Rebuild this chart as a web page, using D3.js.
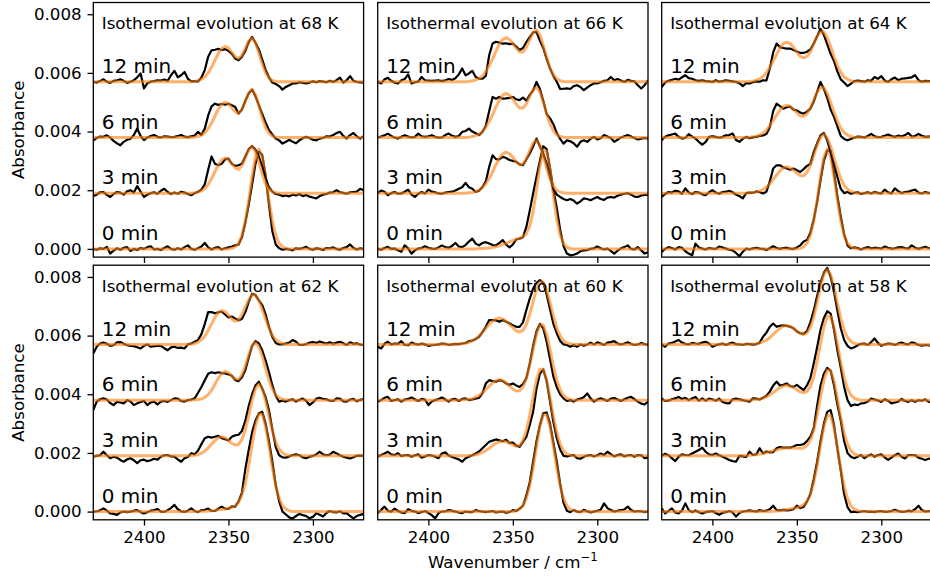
<!DOCTYPE html>
<html>
<head>
<meta charset="utf-8">
<title>Isothermal evolution</title>
<script src="https://d3js.org/d3.v7.min.js"></script>
<style>
  body { margin: 0; background: #fff; }
  svg { display: block; font-family: "DejaVu Sans", sans-serif; }
</style>
</head>
<body>
<script>
// wavenumber grid in cm-1, shared by every spectrum
var wavenumber = [2430,2428,2426,2424,2422,2420,2418,2416,2414,2412, 2410,2408,2406,2404,2402,2400,2398,2396,2394,2392,
  2390,2388,2386,2384,2382,2380,2378,2376,2374,2372, 2370,2368,2366,2364,2362,2360,2358,2356,2354,2352,
  2350,2348,2346,2344,2342,2340,2338,2336,2334,2332, 2330,2328,2326,2324,2322,2320,2318,2316,2314,2312,
  2310,2308,2306,2304,2302,2300,2298,2296,2294,2292, 2290,2288,2286,2284,2282,2280,2278,2276,2274,2272, 2270]

var temperatures = [68, 66, 64, 62, 60, 58]
var minutes = [0, 3, 6, 12]
var offsets = [0, 0.0019, 0.0038, 0.0057]
var xTicks = [2400, 2350, 2300]
var yTicks = [0, 0.002, 0.004, 0.006, 0.008]
var unit = 1e-4   // values below are absorbance / 1e-4, above each trace's own baseline

// measured spectra (m) and fits (f), 68 K
var m68_0 = [0,-0.3,0.2,0,0.7,-1.6,-0.6,0.2,-0.3,0.4, 0.6,-0.7,0,-0.4,0.3,0,0.6,0.9,-0.2,0, -0.4,0.3,0.9,0,-0.3,0.2,-0.2,0.6,1.2,0, -0.3,0.2,0.8,2,0.5,-0.2,0.4,0.6,-0.2,0.2, 0.5,0.8,1.2,1.5,4,9,15,22,29,33.2, 32,25,15,6,1.5,0.2,-0.3,0,-0.2,-0.5, 0.2,0,0.3,0.7,0,-0.3,0.2,0,-0.4,0.3, 0.2,0.5,0,-0.3,0.3,0.6,1.5,0.3,-0.2,0.2, 0]
var f68_0 = [0,0,0,0,0,0,0,0,0,0, 0,0,0,0,0,0,0,0,0,0, 0,0,0,0,0,0,0,0,0,0, 0,0,0,0,0,0,0,0,0,0, 0,0.2,0.7,1.9,4.6,9.5,16.6,24.7,31.4,34, 31.4,24.7,16.6,9.5,4.6,1.9,0.7,0.2,0,0, 0,0,0,0,0,0,0,0,0,0, 0,0,0,0,0,0,0,0,0,0, 0]
var m68_3 = [-1,-0.5,0.3,0.4,-0.6,-1.3,-0.3,0.4,0.2,-0.5, 0.6,1,0.2,2.4,0.5,-1.3,-0.5,0,0.3,-0.2, 0.8,1.5,0.4,-0.3,0.2,-0.2,0.5,0.2,-0.3,-0.7, 0,0.5,1.2,3,8,12.5,10,9.5,10,11.5, 11.8,10,9.3,9.5,10,12.5,15,16.1,14.8,12.5, 9,5,2,0.5,-0.3,-0.5,-1,-0.8,-1.1,-0.5, -0.8,-0.3,-1,-0.6,-1.2,-1.5,-1.8,-1,-0.5,-0.3, 0.2,0.3,1,0.3,0.1,-0.2,0.3,0.4,0.5,1.5, 1]
var f68_3 = [0,0,0,0,0,0,0,0,0,0, 0,0,0,0,0,0,0,0,0,0, 0,0,0,0,0,0,0,0,0,0, 0.1,0.4,0.8,1.6,3,4.9,7.3,9.6,11.4,12, 11.5,10.1,8.6,8.1,9.4,12.1,14.8,15.9,14.1,10.5, 6.4,3.2,1.3,0.5,0.1,0,0,0,0,0, 0,0,0,0,0,0,0,0,0,0, 0,0,0,0,0,0,0,0,0,0, 0]
var m68_6 = [-1,-0.2,0.3,0.2,0.7,0,-1.2,-2,-2.7,-1.5, -0.8,-0.5,0.8,3,0.5,-0.9,0,0.5,0.8,0.2, 0,0.4,0.3,0.1,0.2,0.5,0.8,0.3,0.1,0.4, 0.6,1.9,0.8,3,7.5,10.6,11.5,11.1,11.4,11.2, 11.5,11,10.4,8.1,9.5,12.5,15,16.3,14,11, 8,5,2.5,1,-0.4,-1,-2.1,-1.5,-0.8,-1.5, -2,-1,-0.3,0.2,-0.2,-0.8,-1,-0.4,-0.2,0.4, 0.3,0.8,1.5,1.9,0.5,-0.4,0.8,1.5,0.3,-0.4, 0.4]
var f68_6 = [0,0,0,0,0,0,0,0,0,0, 0,0,0,0,0,0,0,0,0,0, 0,0,0,0,0,0,0,0,0,0, 0.1,0.4,0.8,1.6,3,4.9,7.3,9.6,11.4,12, 11.5,10.1,8.7,8.2,9.6,12.4,15.3,16.4,14.6,10.8, 6.6,3.3,1.4,0.5,0.1,0,0,0,0,0, 0,0,0,0,0,0,0,0,0,0, 0,0,0,0,0,0,0,0,0,0, 0]
var m68_12 = [0,-0.3,0.2,0.8,0,-0.4,0.3,0.5,0.8,0.3, -0.4,0,0.5,1.5,2.8,-2.3,-0.5,0,0.2,0.5, 0.4,0.7,0.3,2.2,3.7,1.5,2.2,3.3,1,0.1, 0.2,0.1,1.4,4,8.5,10.7,10.9,11.2,10.8,11.1, 10.5,9.5,7.9,7.3,8.5,10.5,13.5,15.3,13.3,11, 7.5,4,1.5,-0.3,-0.8,-1.5,-2.7,-1.8,-1.2,-0.6, -0.6,-0.2,-0.4,-0.6,-0.3,0.1,-0.2,0.2,0,-0.2, 0.3,-0.1,0.5,1.4,-0.3,0.5,1.9,0.3,-0.1,-0.2, -0.4]
var f68_12 = [0,0,0,0,0,0,0,0,0,0, 0,0,0,0,0,0,0,0,0,0, 0,0,0,0,0,0,0,0,0,0, 0.1,0.4,0.8,1.6,3,4.9,7.3,9.6,11.4,12, 11.5,10,8.5,7.9,9,11.4,13.9,14.9,13.2,9.8, 6,3,1.2,0.4,0.1,0,0,0,0,0, 0,0,0,0,0,0,0,0,0,0, 0,0,0,0,0,0,0,0,0,0, 0]

// 66 K
var m66_0 = [0,-0.3,0.3,0.7,0,0.1,-0.5,-1,1.2,0.2, -1.6,-0.5,0.1,0.3,0.9,0.4,0.1,0,0.5,1.2, 0.6,0.4,1,2,0.8,0.6,1.3,2.5,3.5,1.8, 1.2,2,2.3,1.8,1.3,1.2,2,3,1.5,0.5, 1.5,3.2,3.5,4,7.5,13,18.9,24.5,30,35, 34,27.5,20,14,6.5,1,-1.6,-2.2,-2,-1.6, -0.8,-0.5,-0.4,0,0.2,0.8,0.2,-0.2,0.1,-0.7, -1.6,-0.6,0.2,0.6,1.2,0,-0.2,0.6,-0.5,-1.6, -1.2]
var f66_0 = [0,0,0,0,0,0,0,0,0,0, 0,0,0,0,0,0,0,0,0,0, 0,0,0,0,0,0,0,0,0,0, 0.1,0.1,0.2,0.3,0.5,0.7,1.1,1.5,1.9,2.4, 2.9,3.3,3.6,4.1,5.2,7.8,12.7,20.2,28.3,33.7, 33.3,27.1,18.3,10.1,4.7,1.8,0.6,0.1,0,0, 0,0,0,0,0,0,0,0,0,0, 0,0,0,0,0,0,0,0,0,0, 0]
var m66_3 = [0,0.9,0.5,-0.7,0,0.4,-0.2,-0.1,0.5,1.2, -0.5,-1.3,-0.2,0.4,-0.1,1.2,0.5,0.3,-0.1,-0.2, 0.2,0.4,0.5,0.9,1.5,2,3.5,2,1.5,0.4, 0.8,2.1,4,9,12.9,11.6,11.5,12.4,12,11.3, 11,10.7,9.8,9.5,11.5,13.5,16,18.6,16,13.5, 10,5.5,1.5,-0.5,-1.3,-2,-2.4,-2,-2.5,-3.6, -2.8,-1.8,-2,-2.4,-1.8,-1.3,-2,-2.3,-1.5,-1.3, -1.5,-0.9,-0.5,-0.2,0,-0.5,-1.2,-1.3,-0.8,-0.6, -0.6]
var f66_3 = [0,0,0,0,0,0,0,0,0,0, 0,0,0,0,0,0,0,0,0,0, 0,0,0,0,0,0,0,0.1,0.2,0.5, 1,1.9,3.2,5,7.3,9.7,11.9,13.4,14,13.4, 12.3,10.7,9.7,9.9,11.7,14.6,17.2,18,16.4,12.8, 8.5,4.9,2.4,1,0.4,0.1,0,0,0,0, 0,0,0,0,0,0,0,0,0,0, 0,0,0,0,0,0,0,0,0,0, 0]
var m66_6 = [0,0.3,0.7,1.3,0.5,0,-0.4,0.2,0.7,0.3, 0,0.2,1.3,0.4,0.2,0.4,0.7,0.2,-0.1,0, 0.8,1.3,0.6,0.2,0.5,1.9,2.2,3,2,1.4, 0.8,1.9,4,9,13.8,13.2,13.8,13.2,13.3,13.5, 13.8,13,12.7,13.6,12.5,14.5,16,18.9,16.5,12.5, 8,6.5,4.5,1.5,-0.5,-2.1,-1,-1.3,-2,-3.2, -1.5,-1,-1.5,-0.5,0.2,-0.7,-0.3,0.8,0.3,-0.2, -1.5,-0.8,0,0.4,0.8,0.3,-0.2,-0.7,-0.4,-0.2, -0.4]
var f66_6 = [0,0,0,0,0,0,0,0,0,0, 0,0,0,0,0,0,0,0,0,0, 0,0,0,0,0,0,0,0.1,0.3,0.6, 1.1,2,3.5,5.4,7.8,10.4,12.7,14.4,15,14.4, 13,11.3,10,10,11.5,14,16.3,17.1,15.5,12.1, 8,4.6,2.2,0.9,0.3,0.1,0,0,0,0, 0,0,0,0,0,0,0,0,0,0, 0,0,0,0,0,0,0,0,0,0, 0]
var m66_12 = [0,-0.6,0.8,1.3,0.3,-0.3,-0.6,0.5,0.9,2.5, -0.6,-0.2,0,1.6,0.5,0.4,0.3,0.4,0.5,0.2, 0.5,0.9,0.6,1.2,2.5,4.5,2.2,2.8,3.7,1.6, 1,1,2,9,13,13.6,13.3,13,13.1,12.8, 13,12,10.8,11.5,13.5,15.2,16.8,17,14,11.5, 7.8,4.5,2,0,-2.5,-2.4,-2.3,-2.5,-1.5,-1.2, -1.8,-2.9,-2,-1.2,-0.6,-0.6,-0.2,0.3,0.5,1.6, 0.5,0.9,0.4,-0.1,0.6,0.3,0.1,-1.2,-2.3,-1.2, 0.5]
var f66_12 = [0,0,0,0,0,0,0,0,0,0, 0,0,0,0,0,0,0,0,0,0, 0,0,0,0,0,0,0,0.1,0.3,0.6, 1.1,2,3.5,5.4,7.8,10.4,12.7,14.4,15,14.4, 13.1,11.4,10.1,10.1,11.8,14.3,16.8,17.6,16,12.4, 8.3,4.7,2.3,1,0.3,0.1,0,0,0,0, 0,0,0,0,0,0,0,0,0,0, 0,0,0,0,0,0,0,0,0,0, 0]

// 64 K
var m64_0 = [-1,0,0.6,0.3,-0.2,0.6,0.4,-0.8,-1.6,-2.2, 1.8,0.5,0.1,-0.2,0.3,0.1,0,0.8,0.5,0.1, -0.3,-0.5,-1.4,-2.5,-1,0.1,-0.2,0.2,0.4,0.1, 0,-0.4,0.2,0.9,0.3,0,0.3,0.4,0.1,0, 0.5,1.2,2.5,3,5.5,10,16,23.4,30,33.5, 33.5,26,18,11,5,1.2,0.2,0.5,0.3,-0.2, 0.3,0.6,0.2,0.4,0.3,0.1,0.8,0.4,0.1,0.2, 0.5,0.6,0.3,0.1,1.2,0.4,0,0.4,0.7,0.3, 0.1]
var f64_0 = [0,0,0,0,0,0,0,0,0,0, 0,0,0,0,0,0,0,0,0,0, 0,0,0,0,0,0,0,0,0,0, 0,0,0,0,0,0,0,0,0,0, 0,0.2,0.7,1.9,4.6,9.5,16.6,24.7,31.4,34, 31.4,24.7,16.6,9.5,4.6,1.9,0.7,0.2,0,0, 0,0,0,0,0,0,0,0,0,0, 0,0,0,0,0,0,0,0,0,0, 0]
var m64_3 = [-1.3,-0.3,0.4,0.2,0.8,0.6,-0.2,1.6,0.2,-0.3, 0.4,0.2,-0.4,-0.7,0.3,1,0.2,-0.2,0.4,0.5, 0.8,0.3,-0.5,-1,-1.8,0,0.2,0.1,0.6,0.3, -0.1,0.5,4,8.4,9.5,9.5,8.8,8.4,8,8.4, 7.8,7.2,8.2,9.3,10,14,17,19.7,20.5,18, 14,10,5.5,1.5,0,0.4,-0.2,0.1,0.3,-0.3, 0,0.3,-0.1,0.4,0.1,-0.1,1.2,0.3,-0.1,1.6, 0.7,0,0.4,0.5,0.9,1.2,0.2,-0.1,0.4,0, 0.2]
var f64_3 = [0,0,0,0,0,0,0,0,0,0, 0,0,0,0,0,0,0,0,0,0, 0,0,0,0,0,0,0.1,0.2,0.3,0.7, 1.2,2.1,3.2,4.7,6.2,7.6,8.6,9,8.6,7.8, 6.8,6,5.9,7.1,9.4,12.8,16.3,19.1,20.1,18.9, 16,12.1,8.2,5,2.7,1.3,0.6,0.2,0,0, 0,0,0,0,0,0,0,0,0,0, 0,0,0,0,0,0,0,0,0,0, 0]
var m64_6 = [-1,0.2,0.7,1,1.3,0.2,-0.4,-0.2,1.1,0.3, -0.4,-1.5,-2.5,-1.5,0.2,0.4,0.2,-0.1,0.2,0.7, 0.8,1.3,-0.9,-1.5,-0.5,0.2,-0.3,0,0.2,0.5, 0.7,1.2,3.5,9,11.5,10.7,9.8,10.3,10.5,9.5, 9.2,8.5,8.1,8.8,9.8,12.2,15.5,18.9,16.5,13.5, 9.5,7,3.8,0.5,-0.5,-1,-0.5,-0.1,0.3,0.2, 0,0.5,1.2,0.4,0.1,0.2,0.6,1,0.5,0.2, 0.6,0.3,0.8,1.5,0.3,0.5,1.2,0.6,0.2,0.3, 0.2]
var f64_6 = [0,0,0,0,0,0,0,0,0,0, 0,0,0,0,0,0,0,0,0,0, 0,0,0,0,0,0,0.1,0.2,0.4,0.8, 1.5,2.5,4,5.7,7.6,9.3,10.6,11,10.6,9.6, 8.4,7.3,7.2,8,10.1,12.8,15.4,17,16.9,15, 12,8.6,5.5,3.2,1.6,0.8,0.3,0,0,0, 0,0,0,0,0,0,0,0,0,0, 0,0,0,0,0,0,0,0,0,0, 0]
var m64_12 = [-1.8,-0.3,0.3,0.6,1,0.7,1.5,2.2,1.2,1, 0.5,0.3,0.5,0.2,0.1,-0.1,0.5,0,0.2,0.5, 0.3,0.1,-0.1,-0.5,-1.5,-0.5,-0.6,-0.2,0.1,0, 0.5,0.4,4.5,10,13,11.8,11.5,11.3,11.3,10.8, 10.3,9.8,9.8,10.2,11,13,15.5,18,16,12.7, 9.5,7,3.5,0.8,-0.3,-1.5,-0.7,0.2,0.4,0.2, 0,0.5,0.3,1.6,1,1.9,0.4,-0.1,0.8,1.4, 0.5,1,1.1,1.3,1.5,2.2,0.5,0,0.3,0.2, 0.1]
var f64_12 = [0,0,0,0,0,0,0,0,0,0, 0,0,0,0,0,0,0,0,0,0, 0,0,0,0,0,0,0.1,0.2,0.5,1, 1.8,3.1,4.9,7,9.3,11.5,13,13.5,13,11.8, 10.1,8.6,8.1,8.6,10.2,13,15.5,17,16.9,15, 12,8.6,5.5,3.2,1.6,0.8,0.3,0,0,0, 0,0,0,0,0,0,0,0,0,0, 0,0,0,0,0,0,0,0,0,0, 0]

// 62 K
var m62_0 = [0,0.1,0.4,1.1,0.3,-0.6,-0.8,-1.1,-0.3,0, -0.2,0,0.3,0.5,-0.2,-0.6,-0.2,0.3,0.5,0.9, 0,-0.1,0.5,1.2,2.3,0.8,0.1,-0.1,0.3,1.1, 0.2,-0.2,0.5,0.6,1,0.2,0.2,1,1.7,1, 0.9,1.8,1.7,3.5,6.5,14.5,21,27,31,33.5, 34,30,24,17,9,3.5,0,-1,-2,-2.3, -1.5,-0.8,-1.2,-1.5,-2.3,-1.8,-0.6,-1.1,-1.7,-0.5, 0.2,-0.2,-0.3,0.1,-0.6,-0.5,-1.5,-2.3,-1.5,-1.1, -0.8]
var f62_0 = [0,0,0,0,0,0,0,0,0,0, 0,0,0,0,0,0,0,0,0,0, 0,0,0,0,0,0,0,0,0,0, 0,0,0.1,0.1,0.2,0.3,0.4,0.6,0.7,0.9, 1.1,1.4,2,3.2,5.6,9.7,15.6,22.8,29.3,33.3, 33.2,29,22.3,14.9,8.8,4.5,2,0.8,0.3,0, 0,0,0,0,0,0,0,0,0,0, 0,0,0,0,0,0,0,0,0,0, 0]
var m62_3 = [-0.3,0,0.2,1.4,0.2,-0.8,-0.3,-0.6,-1.4,-2, -1.2,-0.8,-1.5,-2.5,-1.5,-1.3,-1.8,-1.5,-1,-1.3, -0.3,0.2,0.3,-0.2,-0.3,-1.2,-2,-0.8,-0.4,0.9, 0.5,1.8,4,6,6.5,6.2,6.5,6.8,6,5.7, 5.2,6.5,7,7.2,8.5,12,17,21,24,25.3, 23,20,15.5,9,3,0.2,-0.5,-0.6,-0.2,0.3, 0.5,0.2,-0.5,-0.8,-0.3,0,0.5,1.4,0.5,0.2, 0.4,1.4,0.8,0.2,-0.3,-0.6,-0.9,-0.5,0,0.1, 0]
var f62_3 = [0,0,0,0,0,0,0,0,0,0, 0,0,0,0,0,0,0,0,0,0, 0,0,0,0,0,0,0,0,0,0.1, 0.2,0.4,0.9,1.6,2.7,4,5.2,6.2,6.5,6.2, 5.3,4.3,3.7,3.9,5.6,8.9,13.7,18.9,22.9,24.5, 22.9,18.8,13.5,8.5,4.7,2.3,1,0.4,0.1,0, 0,0,0,0,0,0,0,0,0,0, 0,0,0,0,0,0,0,0,0,0, 0]
var m62_6 = [-3.4,-0.5,0.3,0.6,0.2,-1,-1.7,-0.6,-0.8,-1.1, 0,-0.5,-1.7,-1.1,-0.6,-0.3,-1.7,-0.8,-0.5,-1.5, -0.5,-0.3,-0.6,0,0.6,0.5,-0.3,-0.5,0,0.2, 0.6,2.5,4.5,6.8,9,9.5,9.2,9.5,9.2,9.1, 8.8,8.3,6.8,6.5,7.8,10.3,14.5,18.5,20.1,19.3, 17,13.5,9.5,5,1.5,-0.5,-0.1,-0.5,0,0.3, -0.5,0.1,0.5,-0.2,-1.7,-0.8,0.5,0.8,0.4,0.3, -0.2,-0.3,0.6,0.5,-0.4,-0.5,0.2,0.4,-0.4,0.1, 0.4]
var f62_6 = [0,0,0,0,0,0,0,0,0,0, 0,0,0,0,0,0,0,0,0,0, 0,0,0,0,0,0,0,0,0,0, 0.1,0.2,0.4,0.9,1.9,3.4,5.4,7.5,9.1,9.8, 9.4,8.2,7.2,7.1,8.7,11.7,15.4,18.5,19.6,18.3, 15,10.8,6.8,3.7,1.8,0.8,0.3,0.1,0,0, 0,0,0,0,0,0,0,0,0,0, 0,0,0,0,0,0,0,0,0,0, 0]
var m62_12 = [-3.1,-0.8,0.3,0.6,0.2,-0.5,-0.3,0.7,0.8,0.2, -0.3,-0.5,-0.6,-1,-1.4,-0.5,0,-0.8,-0.6,-0.5, -0.5,-1.3,-2,-1,-0.8,-1.2,-1.1,-1.4,0,0.3, 0.9,1.5,3.5,7,11,11,10.6,10.9,11.2,10.2, 9.2,9.5,8.8,8.2,8.7,11,14.5,17.3,16.8,15, 13.4,10.2,6,2.5,0.5,0,0,0.3,0.6,1.5, 0.9,-0.2,-0.2,0.1,0.6,0.8,0.5,1,0.6,0.3, 0.7,0.2,0.6,0.9,0.4,-0.2,0.7,0.2,0.4,-0.1, -0.2]
var f62_12 = [0,0,0,0,0,0,0,0,0,0, 0,0,0,0,0,0,0,0,0,0, 0,0,0,0,0,0,0,0,0,0.1, 0.3,0.8,1.6,2.9,4.7,7,9.2,10.9,11.5,11.2, 10,8.6,7.9,8.4,10.2,12.8,15.3,16.9,16.8,15, 12,8.6,5.5,3.2,1.6,0.8,0.3,0,0,0, 0,0,0,0,0,0,0,0,0,0, 0,0,0,0,0,0,0,0,0,0, 0]

// 60 K
var m60_0 = [-0.5,0.5,1.7,0.3,0,1,0.2,-0.3,-0.5,0.8, 0.3,0,-0.5,-0.2,0.2,-0.5,-1.2,-2.3,-0.5,0, 0.1,0.5,0.3,0,-0.3,-0.5,0,-0.2,-0.2,0.5, 0.2,0,-0.2,0,0.2,-0.3,-0.1,0,-0.4,-0.2, 0.5,0.2,1,2,5.5,10,17,24,29.5,33.5, 33.8,30,23.5,17,9.5,3,0.3,-0.2,0.5,0, -0.2,0.6,0.1,-0.3,0,0.3,0.6,2.8,1.2,0.5, 0,0.3,0.5,0.7,1.7,0.5,0,0.2,0.1,-0.2, 0]
var f60_0 = [0,0,0,0,0,0,0,0,0,0, 0,0,0,0,0,0,0,0,0,0, 0,0,0,0,0,0,0,0,0,0, 0,0,0,0,0,0,0,0,0,0, 0,0.3,0.8,2,4.5,8.8,14.9,22.2,28.9,33, 33,28.9,22.2,14.9,8.8,4.5,2,0.8,0.3,0, 0,0,0,0,0,0,0,0,0,0, 0,0,0,0,0,0,0,0,0,0, 0]
var m60_3 = [-0.3,0.3,0.8,1.4,0.5,0.3,0.9,-0.1,0.2,0.3, -0.3,0.2,0.5,-0.6,-0.2,0.3,0.1,-0.3,-0.8,0.8, 1.2,0.1,-0.4,-0.8,-1.2,-2,-0.8,-0.3,0.2,0.8, 1.5,2.6,3.7,4.8,5.2,5.6,5.3,5,5.5,4.4, 4.5,3.5,3.1,4.8,6.5,10.5,15,23,28,29.5, 25.5,18.5,11.5,6,2.2,0,-0.2,0.1,0.3,-0.8, -1,-0.3,0.1,0.3,-0.2,0.2,0.8,0.3,1.4,0.6, -0.2,0.3,0.5,-0.2,0.2,0.3,-0.3,0.3,0.2,-0.8, -0.6]
var f60_3 = [0,0,0,0,0,0,0,0,0,0, 0,0,0,0,0,0,0,0,0,0, 0,0,0,0,0,0,0,0.1,0.2,0.4, 0.7,1.2,1.8,2.6,3.5,4.3,4.8,5,4.8,4.3, 3.7,3.3,3.6,5.2,8.6,13.8,20.1,26,29.5,29.5, 25.9,19.9,13.4,7.9,4.1,1.8,0.7,0.2,0,0, 0,0,0,0,0,0,0,0,0,0, 0,0,0,0,0,0,0,0,0,0, 0]
var m60_6 = [-0.6,0,0.8,1.1,-0.3,0,0.3,-0.5,0.2,0.4, 0.9,0.3,-0.3,0.4,0.2,-1.7,-0.5,0,0.4,0.9, 0.2,-0.5,0.3,0.4,-0.3,0.4,0.6,0,0.2,0.5, 0.8,2.3,5.7,6.8,6.5,6.3,6.8,6.5,5.7,5.2, 5.7,5,4.5,5.5,7.5,12.5,18.5,23.5,26,24.5, 20,14,8,4.5,2,0.6,-0.3,0,-0.5,0.2, 0.5,1,2.3,0.6,-0.5,0.2,0.6,0.2,-0.3,0.5, 0.7,0.2,-0.3,0.3,0.8,1.1,0.3,-0.5,-1.2,-1.5, -0.5]
var f60_6 = [0,0,0,0,0,0,0,0,0,0, 0,0,0,0,0,0,0,0,0,0, 0,0,0,0,0,0.1,0.1,0.3,0.5,1, 1.6,2.5,3.6,4.8,5.9,6.7,7,6.7,5.9,4.8, 3.8,3.1,3.2,4.5,7.3,11.9,17.3,22.5,25.6,25.6, 22.4,17.2,11.6,6.8,3.5,1.6,0.6,0.2,0,0, 0,0,0,0,0,0,0,0,0,0, 0,0,0,0,0,0,0,0,0,0, 0]
var m60_12 = [-0.8,-1.4,0.2,0.9,0,0.3,0.2,1.1,-0.2,-0.3, 0.6,0.2,-0.1,0.3,0,-0.5,-0.3,-0.2,0,0.3, 0.2,-0.2,0,0.2,0.1,0.3,0.5,1.1,1.3,1.8, 2.6,4.2,6,8.3,8.3,8.2,7.7,8.3,7.7,7.2, 6.5,6,6,7.5,11.7,15.6,19,21,21.9,21, 17,12,7,3.8,1.2,0,-0.2,-0.8,-0.2,-0.8, 0,-0.5,0,0.6,0,0.7,0.3,-0.2,0.6,0.8, 1.1,0.3,0,0.3,0.7,0.2,-0.2,0,0.5,0.1, -0.2]
var f60_12 = [0,0,0,0,0,0,0,0,0,0, 0,0,0,0,0,0,0,0,0,0, 0,0,0,0,0.1,0.2,0.4,0.7,1.2,1.9, 2.9,4.1,5.5,6.8,7.9,8.7,9,8.7,7.9,6.8, 5.7,4.6,4.2,4.8,6.8,10.3,14.6,18.7,21.3,21.2, 18.5,14.2,9.6,5.6,2.9,1.3,0.5,0.2,0,0, 0,0,0,0,0,0,0,0,0,0, 0,0,0,0,0,0,0,0,0,0, 0]

// 58 K
var m58_0 = [1.1,-0.6,0.2,1.1,-0.3,-0.6,0.3,2.8,0.5,-0.2, 0.4,-0.2,-0.6,-0.2,0,0.2,-0.5,-1.1,-0.4,-0.2, 0.2,-0.3,-1.7,-0.5,0,0.2,0.4,0.2,0,0.5, 0.2,0.3,0.8,2,0.5,0.4,0.6,0.4,0.5,0.8, 2,1.2,1.6,3.4,6,11,17,24,30,34, 34.6,29.5,21.5,14,6,1.5,-0.2,0,-0.2,0, 0.2,-0.1,0,-0.2,0.1,0.2,-0.1,0,0.2,0.6, 0.2,-0.1,0,0.3,0.1,0.8,2,0.5,0,0.2, 0]
var f58_0 = [0,0,0,0,0,0,0,0,0,0, 0,0,0,0,0,0,0,0,0,0, 0,0,0,0,0,0,0,0,0,0, 0,0,0,0.1,0.2,0.3,0.5,0.7,0.9,1.1, 1.3,1.7,2.3,3.5,5.8,9.7,15.6,22.5,28.9,32.8, 32.7,28.5,21.8,14.7,8.6,4.5,2,0.8,0.3,0, 0,0,0,0,0,0,0,0,0,0, 0,0,0,0,0,0,0,0,0,0, 0]
var m58_3 = [0,0.7,0.2,-0.8,-1.8,-0.3,0.5,0.3,0.2,0.8, 1.4,2,2.8,1.4,0.5,0.3,0.8,0.2,-0.3,-0.8, -1.4,-1.8,-2,0,-0.2,-0.4,1.4,0.3,0.5,2.6, 0.8,1.5,1.2,1.3,2.6,3,2.8,2.8,2.8,3.2, 3.7,3.7,4,5,6.5,9.5,17,24,28,30, 29,24,17.5,12,5,1,-0.3,-0.8,-0.3,0.3, -0.8,0,0.5,-0.3,0.3,0.5,-0.5,-1.4,-0.6,0.2, 0.8,-0.3,-0.9,0.3,0.3,0.2,-0.6,-1,-1.4,-1, -0.8]
var f58_3 = [0,0,0,0,0,0,0,0,0,0, 0,0,0,0,0,0,0,0,0,0, 0,0,0,0,0.1,0.1,0.2,0.3,0.4,0.6, 0.8,1.1,1.4,1.7,2,2.3,2.6,2.7,2.8,2.7, 2.6,2.6,2.7,3.5,5.4,8.8,13.9,20.1,25.8,29.3, 29.2,25.5,19.6,13.1,7.7,4,1.8,0.7,0.2,0, 0,0,0,0,0,0,0,0,0,0, 0,0,0,0,0,0,0,0,0,0, 0]
var m58_6 = [0.6,-0.3,-0.2,0.3,0.6,1.1,0.4,0.8,0,0.6, 1.1,-0.2,0.6,-0.2,0.5,0.3,-0.2,0.5,-0.6,-1, -1.1,0.3,0.5,0.3,0,-0.3,-0.5,0.6,0.5,0.2, 0.8,1.5,2.9,5,6.3,5,5.2,5.7,4.8,4.5, 5.2,4.3,3.4,5,7.5,12.5,18,24,28,30.3, 29.5,24,17,11,4.5,0,-2,-1.5,-1.7,-1.1, -1,-0.5,0.5,0.2,-0.1,-0.6,0.3,-0.2,-1.1,-0.8, -0.5,0.4,-0.3,-0.6,0,-0.6,0,-0.2,0.3,-0.6, -0.5]
var f58_6 = [0,0,0,0,0,0,0,0,0,0, 0,0,0,0,0,0,0,0,0,0, 0,0,0,0,0,0,0,0.1,0.2,0.4, 0.7,1.2,1.8,2.6,3.5,4.3,4.8,5,4.8,4.3, 3.5,2.8,2.5,3,4.6,8,13.1,19.3,25,28.5, 28.5,25,19.2,12.9,7.6,3.9,1.8,0.7,0.2,0, 0,0,0,0,0,0,0,0,0,0, 0,0,0,0,0,0,0,0,0,0, 0]
var m58_12 = [0,-0.8,0.3,0.5,1,1.5,0.6,0.2,0,0.5, 0.3,0.2,0.6,0.9,0.3,-0.8,-0.3,0,0.3,-0.2, 0.3,0.6,0.1,0,-0.2,0.2,0.1,-0.1,0.1,0.6, 2.6,4,6,7.1,6,6.3,6.5,6.3,6,5.5, 4.4,3.8,3.6,4.5,7.5,11.5,16.5,21,24.5,26.1, 23,18,11.5,5.5,1.5,-0.5,-1.4,-1,-0.3,0.2, 0.3,-0.2,0.8,2,0.5,-0.5,0,0.3,0.2,-0.2, 0.3,0.6,0.2,0,0.7,0.4,-0.2,-0.4,-0.2,-0.3, -0.5]
var f58_12 = [0,0,0,0,0,0,0,0,0,0, 0,0,0,0,0,0,0,0,0,0, 0,0,0,0,0,0,0.1,0.1,0.2,0.5, 0.9,1.5,2.3,3.4,4.5,5.5,6.2,6.5,6.2,5.5, 4.6,3.8,3.3,3.9,5.8,9.3,14.3,19.7,24,25.5, 23.9,19.6,14.1,8.9,4.9,2.4,1,0.4,0.1,0, 0,0,0,0,0,0,0,0,0,0, 0,0,0,0,0,0,0,0,0,0, 0]

var measured = {
  68: [m68_0, m68_3, m68_6, m68_12], 66: [m66_0, m66_3, m66_6, m66_12], 64: [m64_0, m64_3, m64_6, m64_12],
  62: [m62_0, m62_3, m62_6, m62_12], 60: [m60_0, m60_3, m60_6, m60_12], 58: [m58_0, m58_3, m58_6, m58_12]
}
var fitted = {
  68: [f68_0, f68_3, f68_6, f68_12], 66: [f66_0, f66_3, f66_6, f66_12], 64: [f64_0, f64_3, f64_6, f64_12],
  62: [f62_0, f62_3, f62_6, f62_12], 60: [f60_0, f60_3, f60_6, f60_12], 58: [f58_0, f58_3, f58_6, f58_12]
}

var pw = 270.3, ph = 254.6
var colX = [93.3, 377.7, 661.7], rowY = [2.5, 265.2]
var fs = 16.7

var svg = d3.select("body").append("svg").attr("width", 930).attr("height", 576)

var x = d3.scaleLinear().domain([2430, 2270]).range([0, pw])
var y = d3.scaleLinear().domain([-0.00028, 0.0084]).range([ph, 0])

function styleAxis(sel) {
  sel.select(".domain").remove()
  sel.selectAll(".tick line").attr("stroke", "#000").attr("stroke-width", 1.3)
  sel.selectAll(".tick text").attr("fill", "#000").attr("font-size", fs)
    .attr("font-family", "DejaVu Sans, sans-serif")
}

temperatures.forEach(function (t, k) {
  var col = k % 3, row = Math.floor(k / 3)
  var g = svg.append("g").attr("transform", `translate(${colX[col]},${rowY[row]})`)

  g.append("clipPath").attr("id", "clip" + k)
    .append("rect").attr("width", pw).attr("height", ph)
  var plot = g.append("g").attr("clip-path", `url(#clip${k})`)

  minutes.forEach(function (m, j) {
    var line = d3.line()
      .x((v, i) => x(wavenumber[i]))
      .y(v => y(offsets[j] + v * unit))
    plot.append("path").datum(measured[t][j]).attr("d", line)
      .attr("fill", "none").attr("stroke", "#000").attr("stroke-width", 2.2)
      .attr("stroke-linejoin", "round")
    plot.append("path").datum(fitted[t][j]).attr("d", line)
      .attr("fill", "none").attr("stroke", "#ff7f0e").attr("stroke-opacity", 0.62)
      .attr("stroke-width", 3).attr("stroke-linejoin", "round")

    g.append("text").attr("x", x(2425)).attr("y", y(offsets[j] + 0.0003))
      .attr("font-size", 20).attr("fill", "#000").text(m + " min")
  })

  g.append("text").attr("x", x(2425)).attr("y", 26.8)
    .attr("font-size", fs).attr("fill", "#000").text(`Isothermal evolution at ${t} K`)

  var ax = d3.axisBottom(x).tickValues(xTicks).tickSize(5.8).tickPadding(5.8)
    .tickFormat(row == 1 ? d3.format("d") : "")
  g.append("g").attr("transform", `translate(0,${ph})`).call(ax).call(styleAxis)

  if (col == 0) {
    var ay = d3.axisLeft(y).tickValues(yTicks).tickSize(5.8).tickPadding(5.8).tickFormat(d3.format(".3f"))
    g.append("g").call(ay).call(styleAxis)
    g.append("text").attr("transform", `translate(-69,${ph / 2}) rotate(-90)`)
      .attr("text-anchor", "middle").attr("font-size", fs).attr("fill", "#000").text("Absorbance")
  }

  g.append("rect").attr("width", pw).attr("height", ph)
    .attr("fill", "none").attr("stroke", "#000").attr("stroke-width", 1.3)
})

var xl = svg.append("text").attr("x", colX[1] + pw / 2).attr("y", 568)
  .attr("text-anchor", "middle").attr("font-size", fs).attr("fill", "#000")
xl.append("tspan").text("Wavenumber / cm")
xl.append("tspan").attr("font-size", 11.7).attr("dy", -7).text("\u22121")
</script>
</body>
</html>
